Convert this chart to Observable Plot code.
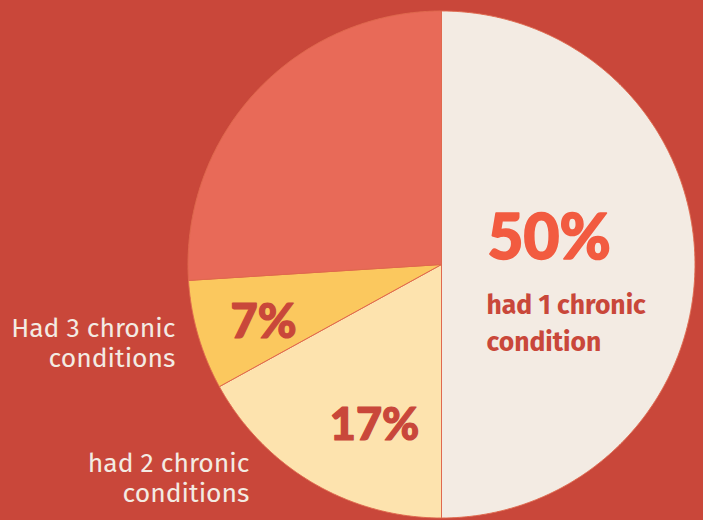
<!DOCTYPE html>
<html>
<head>
<meta charset="utf-8">
<script src="https://cdn.jsdelivr.net/npm/d3@7"></script>
<script src="https://cdn.jsdelivr.net/npm/@observablehq/plot@0.6"></script>
<style>
  html, body { margin: 0; padding: 0; background: #c9473a; }
  #chart svg { display: block; }
</style>
</head>
<body>
<div id="chart"></div>
<script>
// ---- data ----
const categories = ["had 1 chronic condition", "had 2 chronic conditions", "Had 3 chronic conditions", "other"];
const values = [50, 17, 7, 26];
const pctLabels = ["50%", "17%", "7%"];
const colors = ["#f3ebe3", "#fde3ae", "#fbc85e", "#e86a58"];

// ---- geometry from data ----
const rows = categories.map((c, i) => ({category: c, value: values[i]}));
const arcs = d3.pie().sort(null).value(d => d.value).startAngle(0).endAngle(2 * Math.PI)(rows);
const slicePts = [];
for (const a of arcs) {
  const n = Math.max(2, Math.ceil((a.endAngle - a.startAngle) / 0.005));
  slicePts.push({category: a.data.category, x: 0, y: 0});
  for (let k = 0; k <= n; k++) {
    const t = a.startAngle + (a.endAngle - a.startAngle) * k / n;
    slicePts.push({category: a.data.category, x: Math.sin(t), y: Math.cos(t)});
  }
  slicePts.push({category: a.data.category, x: 0, y: 0});
}

// layout: centre (441,264), radius 253.5 px
const W = 703, H = 520, CX = 441, CY = 264, R = 253.5;
const px = v => (v - CX) / R;
const py = v => (CY - v) / R;

const font = "'Fira Sans', Lato, 'Open Sans', sans-serif";

const chart = Plot.plot({
  width: W,
  height: H,
  margin: 0,
  style: {background: "#c9473a", fontFamily: font},
  x: {domain: [px(0), px(W)], range: [0, W], axis: null},
  y: {domain: [py(H), py(0)], range: [H, 0], axis: null},
  color: {domain: categories, range: colors},
  marks: [
    Plot.line(slicePts, {
      x: "x", y: "y", z: "category",
      fill: "category",
      stroke: "#e0694e",
      strokeWidth: 1,
      curve: "linear"
    }),
    // big percentage labels
    Plot.text([pctLabels[0]], {x: [px(487)], y: [py(258)], text: d => d,
      textAnchor: "start", lineAnchor: "bottom", fontSize: 62, fontWeight: 900,
      fill: "#f25b40", stroke: "#f25b40", strokeWidth: 1.6, fontFamily: "Lato, sans-serif"}),
    Plot.text([pctLabels[1]], {x: [px(374)], y: [py(439)], text: d => d,
      textAnchor: "middle", lineAnchor: "bottom", fontSize: 45, fontWeight: 900,
      fill: "#c9473a", stroke: "#c9473a", strokeWidth: 1.2, fontFamily: "Lato, sans-serif"}),
    Plot.text([pctLabels[2]], {x: [px(230)], y: [py(337)], text: d => d,
      textAnchor: "start", lineAnchor: "bottom", fontSize: 47, fontWeight: 900,
      fill: "#c9473a", stroke: "#c9473a", strokeWidth: 1.2, fontFamily: "Lato, sans-serif"}),
    // category labels
    Plot.text(["had 1 chronic\ncondition"], {x: [px(486)], y: [py(350)], text: d => d,
      textAnchor: "start", lineAnchor: "bottom", fontSize: 26.5, fontWeight: 700,
      lineHeight: 1.38, fill: "#c9473a"}),
    Plot.text(["Had 3 chronic\nconditions"], {x: [px(175)], y: [py(366)], text: d => d,
      textAnchor: "end", lineAnchor: "bottom", fontSize: 26.5, fontWeight: 400,
      lineHeight: 1.1, fill: "#f3ebe3"}),
    Plot.text(["had 2 chronic\nconditions"], {x: [px(249)], y: [py(501)], text: d => d,
      textAnchor: "end", lineAnchor: "bottom", fontSize: 26.5, fontWeight: 400,
      lineHeight: 1.12, fill: "#f3ebe3"})
  ]
});
document.getElementById("chart").append(chart);
</script>
</body>
</html>
